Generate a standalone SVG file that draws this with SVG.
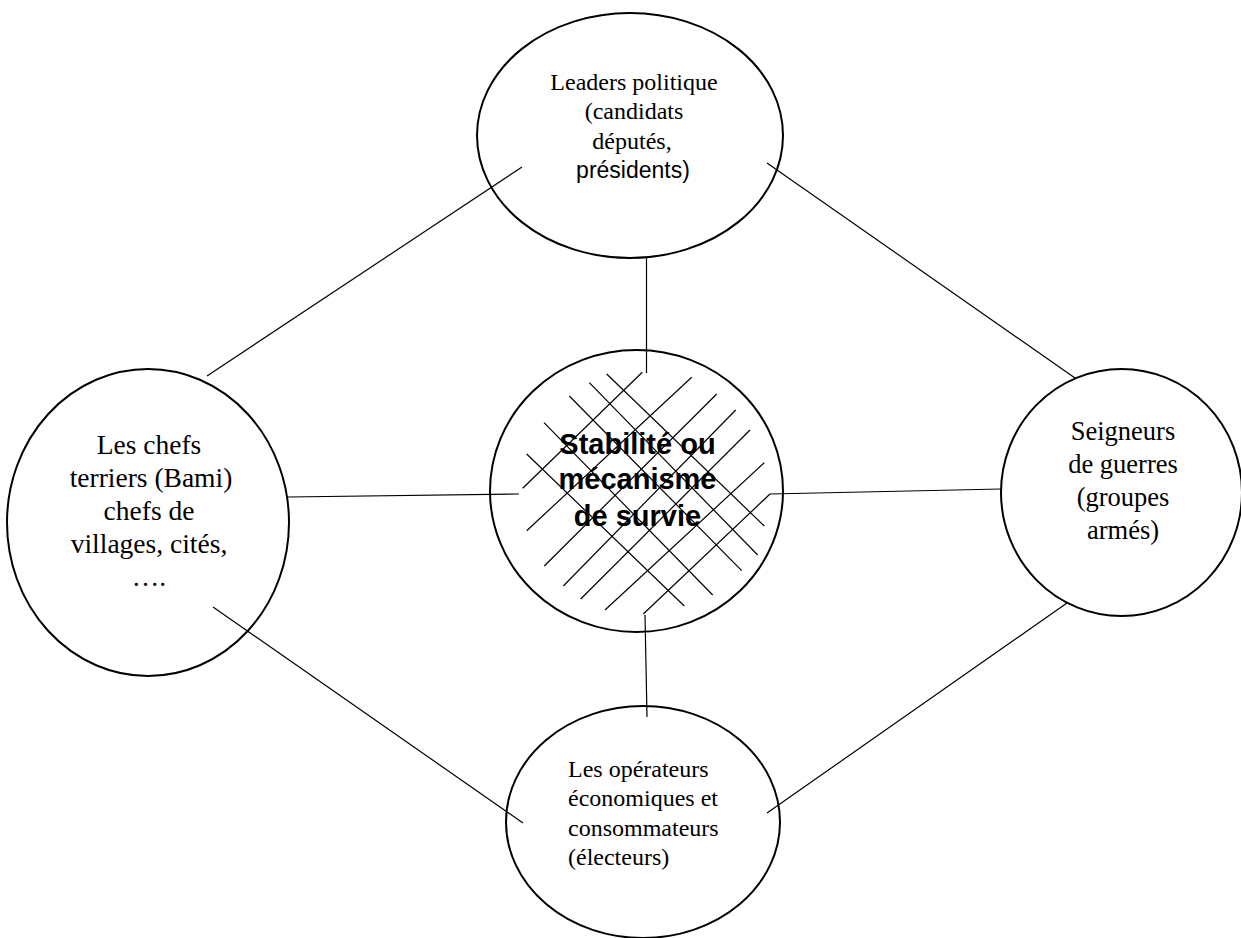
<svg xmlns="http://www.w3.org/2000/svg" width="1241" height="938" viewBox="0 0 1241 938">
<style>
.bg{fill:#ffffff}
.node ellipse{fill:none;stroke:#000;stroke-width:2}
.conn line{stroke:#000;stroke-width:1.2;fill:none}
.hatch line{stroke:#000;stroke-width:1.2}
.serif{font-family:"Liberation Serif","Times New Roman",serif;fill:#000}
.sans{font-family:"Liberation Sans",Arial,sans-serif;fill:#000}
.ctr{text-anchor:middle}
</style>
<rect class="bg" x="0" y="0" width="1241" height="938"/>
<g id="connectors" class="conn">
<line x1="207" y1="376" x2="522" y2="167"/>
<line x1="767" y1="163" x2="1075" y2="378"/>
<line x1="646.5" y1="258" x2="646.5" y2="373"/>
<line x1="288" y1="497" x2="519" y2="494"/>
<line x1="770" y1="494" x2="1001" y2="489"/>
<line x1="645" y1="615" x2="647" y2="717"/>
<line x1="213" y1="607" x2="523" y2="823"/>
<line x1="1067" y1="603" x2="767" y2="813"/>
</g>
<g id="node-leaders" class="node">
<ellipse cx="630" cy="135.5" rx="153" ry="122.5"/>
<text class="serif ctr" font-size="24" x="634" y="89.5">Leaders politique</text>
<text class="serif ctr" font-size="24" x="634" y="119">(candidats</text>
<text class="serif ctr" font-size="24" x="632" y="148.5">députés,</text>
<text class="sans ctr" font-size="23" x="633" y="177.5">présidents)</text>
</g>
<g id="node-chefs" class="node">
<ellipse cx="148" cy="522.5" rx="141" ry="153.5"/>
<text class="serif ctr" font-size="27.5" x="149" y="454">Les chefs</text>
<text class="serif ctr" font-size="27.5" x="151" y="487">terriers (Bami)</text>
<text class="serif ctr" font-size="27.5" x="149" y="520">chefs de</text>
<text class="serif ctr" font-size="27.5" x="149" y="553">villages, cités,</text>
<text class="serif ctr" font-size="27.5" x="149" y="586">….</text>
</g>
<g id="node-stabilite" class="node">
<ellipse cx="636.5" cy="491" rx="146.5" ry="141"/>
<g class="hatch">
<line x1="522.7" y1="488.3" x2="642.3" y2="372.3"/>
<line x1="526.7" y1="530.7" x2="691.7" y2="377.3"/>
<line x1="544.3" y1="566" x2="716.7" y2="394"/>
<line x1="563.3" y1="586" x2="735.7" y2="410"/>
<line x1="580.7" y1="599" x2="750" y2="430"/>
<line x1="605" y1="610" x2="764.3" y2="462.7"/>
<line x1="643.3" y1="614" x2="770" y2="494"/>
<line x1="606.7" y1="374" x2="764.3" y2="526"/>
<line x1="589.3" y1="382.7" x2="757.7" y2="555"/>
<line x1="569.3" y1="396" x2="741.7" y2="570.7"/>
<line x1="544" y1="422.7" x2="712.7" y2="595"/>
<line x1="526.7" y1="454" x2="684.3" y2="606"/>
</g>
<text class="sans ctr" font-size="29" font-weight="bold" x="637.5" y="453.5">Stabilité ou</text>
<text class="sans ctr" font-size="29" font-weight="bold" x="637.5" y="489">mécanisme</text>
<text class="sans ctr" font-size="29" font-weight="bold" x="637.5" y="526">de survie</text>
</g>
<g id="node-seigneurs" class="node">
<ellipse cx="1121.5" cy="492.5" rx="120.5" ry="123.5"/>
<text class="serif ctr" font-size="26.5" x="1123" y="440">Seigneurs</text>
<text class="serif ctr" font-size="26.5" x="1123" y="473">de guerres</text>
<text class="serif ctr" font-size="26.5" x="1123" y="506">(groupes</text>
<text class="serif ctr" font-size="26.5" x="1123" y="539">armés)</text>
</g>
<g id="node-operateurs" class="node">
<ellipse cx="643" cy="822" rx="137" ry="116"/>
<text class="serif" font-size="24" x="568" y="777">Les opérateurs</text>
<text class="serif" font-size="24" x="568" y="806">économiques et</text>
<text class="serif" font-size="24" x="568" y="836">consommateurs</text>
<text class="serif" font-size="24" x="568" y="865">(électeurs)</text>
</g>
</svg>
